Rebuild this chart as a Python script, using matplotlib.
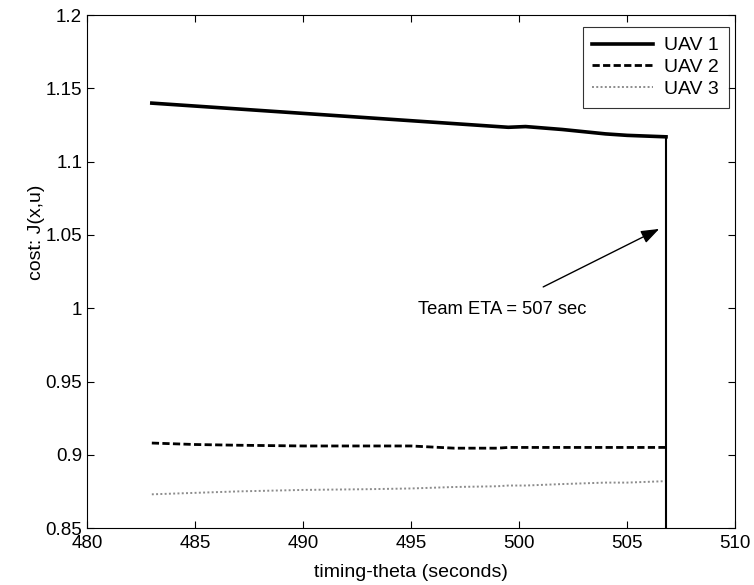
import numpy as np
import matplotlib.pyplot as plt

plt.rcParams['font.family'] = ['Liberation Sans', 'DejaVu Sans']

# cost history per vehicle over timing-theta
t_uav = [483, 485, 487, 490, 493, 495, 497, 499, 499.5, 500.3, 502, 504, 505, 506.8]
cost_uav1 = [1.140, 1.138, 1.136, 1.133, 1.130, 1.128, 1.126, 1.124, 1.1235, 1.124, 1.122, 1.119, 1.118, 1.117]
cost_uav2 = [0.908, 0.907, 0.9065, 0.906, 0.906, 0.906, 0.9045, 0.9045, 0.905, 0.905, 0.905, 0.905, 0.905, 0.905]
cost_uav3 = [0.873, 0.874, 0.875, 0.876, 0.8765, 0.877, 0.878, 0.8785, 0.879, 0.879, 0.880, 0.881, 0.881, 0.882]

team_eta = 506.8
eta_label = "Team ETA = 507 sec"

fig = plt.figure(figsize=(7.54, 5.85), dpi=100)
ax = fig.add_axes([0.1154, 0.0974, 0.8596, 0.8766])

ax.plot(t_uav, cost_uav1, color="black", lw=2.6, label="UAV 1")
ax.plot(t_uav, cost_uav2, color="black", lw=2.0, ls=(0, (2.6, 1.2)), label="UAV 2")
ax.plot(t_uav, cost_uav3, color="#8c8c8c", lw=1.4, ls=(0, (1, 1.2)), label="UAV 3")
ax.plot([team_eta, team_eta], [0.85, cost_uav1[-1]], color="black", lw=1.5)

ax.annotate("", xy=(506.6, 1.055), xytext=(501.0, 1.0137),
            arrowprops=dict(arrowstyle="-|>,head_length=1.1,head_width=0.4",
                            color="black", lw=1.0))
ax.text(495.3, 0.999, eta_label, fontsize=13.2, va="center", ha="left")

ax.set_xlim(480, 510)
ax.set_ylim(0.85, 1.2)
ax.set_xticks(np.arange(480, 511, 5))
ax.set_yticks(np.arange(0.85, 1.201, 0.05))
ax.set_yticklabels(["0.85", "0.9", "0.95", "1", "1.05", "1.1", "1.15", "1.2"])
ax.tick_params(direction="in", top=True, right=True, labelsize=13.5, length=5)
ax.tick_params(axis="x", pad=5)
ax.set_xlabel("timing-theta (seconds)", fontsize=14, labelpad=9)
ax.set_ylabel("cost: J(x,u)", fontsize=14)
ax.yaxis.set_label_coords(-0.065, 0.577)

leg = ax.legend(loc="upper right", bbox_to_anchor=(0.99, 0.977),
                fontsize=14, frameon=True, fancybox=False, edgecolor="black",
                handlelength=3.1, borderaxespad=0.0, borderpad=0.5,
                labelspacing=0.22, handletextpad=0.6)
leg.get_frame().set_linewidth(0.8)

fig.savefig("out.png", dpi=100)
